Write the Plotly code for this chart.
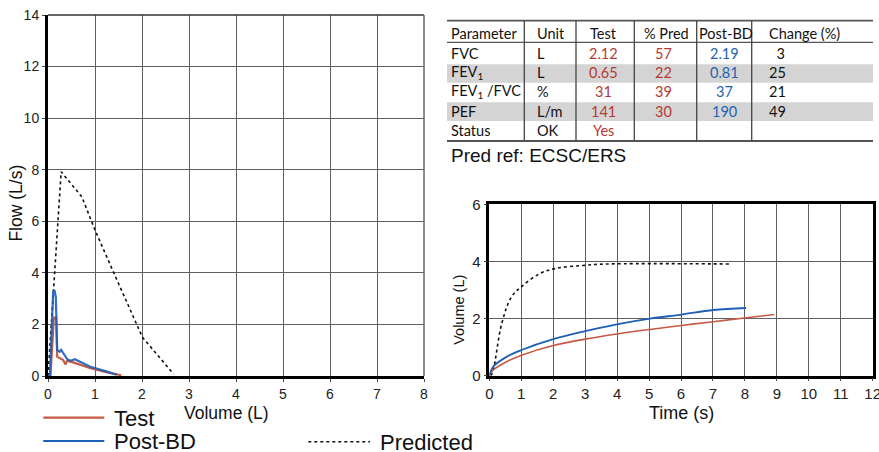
import plotly.graph_objects as go

# ---------------- data ----------------
# Flow-volume loop (left)
fv_test_vol = [0, 0.053, 0.124, 0.174, 0.195, 0.266, 0.323, 0.372, 0.408, 0.55, 0.904, 1.26, 1.56]
fv_test_flow = [0, 0, 2.26, 2.26, 0.75, 0.69, 0.62, 0.45, 0.59, 0.52, 0.30, 0.14, 0.03]
fv_post_vol = [0, 0.04, 0.11, 0.138, 0.166, 0.195, 0.25, 0.28, 0.41, 0.48, 0.57, 0.9, 1.26, 1.46]
fv_post_flow = [0, 0, 3.27, 3.33, 3.07, 1.01, 0.94, 1.01, 0.65, 0.59, 0.65, 0.36, 0.17, 0.05]
fv_pred_vol = [0, 0.28, 0.72, 1.0, 1.39, 2.01, 2.67]
fv_pred_flow = [0, 7.92, 6.95, 5.66, 4.04, 1.50, 0.08]

# Volume-time (right)
vt_test_t = [0, 0.125, 0.54, 1.01, 2.0, 3.0, 3.99, 5.03, 6.02, 7.01, 8.04, 8.92]
vt_test_v = [0, 0.20, 0.49, 0.72, 1.06, 1.28, 1.46, 1.62, 1.76, 1.89, 2.03, 2.14]
vt_post_t = [0, 0.125, 0.54, 1.01, 2.0, 3.0, 3.99, 5.03, 6.02, 7.01, 8.04]
vt_post_v = [0, 0.32, 0.66, 0.90, 1.28, 1.56, 1.80, 2.00, 2.14, 2.30, 2.37]
vt_pred_t = [0.05, 0.125, 0.39, 0.70, 1.01, 1.59, 2.11, 2.94, 3.67, 7.54]
vt_pred_v = [0, 0.20, 1.83, 2.77, 3.12, 3.58, 3.76, 3.86, 3.91, 3.91]

# Table
tbl_header = ["Parameter", "Unit", "Test", "% Pred", "Post-BD", "Change (%)"]
tbl_param = ["FVC", "FEV<sub>1</sub>", "FEV<sub>1</sub> /FVC", "PEF", "Status"]
tbl_unit = ["L", "L", "%", "L/m", "OK"]
tbl_test = ["2.12", "0.65", "31", "141", "Yes"]
tbl_pred = ["57", "22", "39", "30", ""]
tbl_post = ["2.19", "0.81", "37", "190", ""]
tbl_change = ["\u00a0\u00a03", "25", "21", "49", ""]
pred_ref = "Pred ref: ECSC/ERS"

legend_names = ["Test", "Post-BD", "Predicted"]

# ---------------- styles ----------------
W, H = 879, 452
RED = "#c65a45"
BLUE = "#1f5fb5"
TRED = "#b53a35"
TBLUE = "#2563b0"
GRID = "#5f5f5f"
FONT = "Liberation Sans"
TFONT = "Lato"


def X(px):
    return px / W


def Y(py):
    return 1 - py / H


fig = go.Figure()

# left chart
fig.add_trace(go.Scatter(x=fv_pred_vol, y=fv_pred_flow, mode="lines",
                         line=dict(color="#111", width=1.6, dash="dot"),
                         xaxis="x", yaxis="y", showlegend=False))
fig.add_trace(go.Scatter(x=fv_test_vol, y=fv_test_flow, mode="lines",
                         line=dict(color=RED, width=2.2),
                         xaxis="x", yaxis="y", showlegend=False))
fig.add_trace(go.Scatter(x=fv_post_vol, y=fv_post_flow, mode="lines",
                         line=dict(color=BLUE, width=2.2), opacity=0.9,
                         xaxis="x", yaxis="y", showlegend=False))

# right chart
fig.add_trace(go.Scatter(x=vt_pred_t, y=vt_pred_v, mode="lines", line_shape="spline",
                         line=dict(color="#111", width=1.6, dash="3px,3px"),
                         xaxis="x2", yaxis="y2", showlegend=False))
fig.add_trace(go.Scatter(x=vt_test_t, y=vt_test_v, mode="lines", line_shape="spline",
                         line=dict(color=RED, width=1.6),
                         xaxis="x2", yaxis="y2", showlegend=False))
fig.add_trace(go.Scatter(x=vt_post_t, y=vt_post_v, mode="lines", line_shape="spline",
                         line=dict(color=BLUE, width=1.8),
                         xaxis="x2", yaxis="y2", showlegend=False))

tickfont = dict(family=FONT, size=14, color="#222")
common = dict(showgrid=True, gridcolor=GRID, gridwidth=1, zeroline=False,
              showline=True, linecolor="black", ticks="outside", ticklen=3,
              tickcolor="#444", automargin=False, fixedrange=True, tick0=0,
              ticklabeloverflow="allow")

fig.update_layout(
    width=W, height=H,
    autosize=False,
    margin=dict(l=0, r=0, t=0, b=0, pad=0),
    paper_bgcolor="white", plot_bgcolor="white",
    showlegend=False,
    xaxis=dict(domain=[X(48), X(424)], range=[0, 8], dtick=1, linewidth=3,
               tickfont=tickfont, anchor="y", **common),
    yaxis=dict(domain=[Y(376), Y(15)], range=[0, 14], dtick=2, linewidth=3,
               tickfont=tickfont, anchor="x", **common),
    xaxis2=dict(domain=[X(489.3), X(872.7)], range=[0, 12], dtick=1, mirror=True, linewidth=2.5,
                tickfont=dict(family=FONT, size=15, color="#222"), anchor="y2", **common),
    yaxis2=dict(domain=[Y(375.7), Y(204.3)], range=[0, 6], dtick=2, mirror=True, linewidth=2.5,
                tickfont=dict(family=FONT, size=15, color="#222"), anchor="x2", **common),
)

shapes = []
ann = []

# left chart top/right borders
shapes.append(dict(type="line", xref="x domain", yref="y domain", x0=0, x1=1, y0=1, y1=1,
                   line=dict(color="#333", width=1.5)))
shapes.append(dict(type="line", xref="x domain", yref="y domain", x0=1, x1=1, y0=0, y1=1,
                   line=dict(color="#666", width=1.5)))


def label(text, x, y, size, angle=0, anchor="center"):
    ann.append(dict(text=text, x=X(x), y=Y(y), xref="paper", yref="paper",
                    showarrow=False, textangle=angle, xanchor=anchor, yanchor="middle",
                    font=dict(family=FONT, size=size, color="#111")))


# axis titles
label("Flow (L/s)", 16.3, 203.3, 17.5, -90)
label("Volume (L)", 226.7, 413.3, 17.5)
label("Volume (L)", 458.3, 309.5, 14.5, -90)
label("Time (s)", 681.7, 413.3, 18)

# ---------------- table ----------------
col_edges = [447, 524.3, 576, 634.3, 696.7, 751.7, 873]
row_lines = [20.7, 42.3, 141]
band_rows = [(64.3, 82.7), (102.3, 121.0)]
for y0, y1 in band_rows:
    shapes.append(dict(type="rect", xref="paper", yref="paper", x0=X(col_edges[0]), x1=X(col_edges[-1]),
                       y0=Y(y1), y1=Y(y0), fillcolor="#d4d4d4", line=dict(width=0), layer="below"))
for i, yy in enumerate(row_lines):
    shapes.append(dict(type="line", xref="paper", yref="paper", x0=X(col_edges[0]), x1=X(col_edges[-1]),
                       y0=Y(yy), y1=Y(yy), line=dict(color="#555", width=1.8 if i != 1 else 1.2)))
for xx in col_edges[1:-1]:
    shapes.append(dict(type="line", xref="paper", yref="paper", x0=X(xx), x1=X(xx),
                       y0=Y(row_lines[0]), y1=Y(row_lines[-1]), line=dict(color="#444", width=1.3)))

row_y = [33.3, 53.3, 72.5, 91.7, 111.5, 130.7]


def cell(text, x, y, anchor, color="#111"):
    if not text:
        return
    ann.append(dict(text=text, x=X(x), y=Y(y), xref="paper", yref="paper", showarrow=False,
                    xanchor=anchor, yanchor="middle", font=dict(family=TFONT, size=14.5, color=color)))


hx = [(449, "left"), (535, "left"), (603, "center"), (666, "center"), (725.5, "center"), (767, "left")]
for t, (x, a) in zip(tbl_header, hx):
    cell(t, x, row_y[0], a)
for i in range(5):
    y = row_y[i + 1]
    cell(tbl_param[i], 449, y, "left")
    cell(tbl_unit[i], 535, y, "left")
    cell(tbl_test[i], 603, y, "center", TRED)
    cell(tbl_pred[i], 663, y, "center", TRED)
    cell(tbl_post[i], 724.5, y, "center", TBLUE)
    cell(tbl_change[i], 767, y, "left")

label(pred_ref, 449, 155.5, 19, anchor="left")

# ---------------- legend ----------------
leg = [(43.3, 104.3, 417.7, RED, "solid", 2.2, 111.7),
       (43.3, 104.3, 441.0, BLUE, "solid", 2.2, 111.7),
       (308.3, 370.0, 441.7, "#111", "dot", 1.6, 377.7)]
for (x0, x1, y, c, d, w, tx), name in zip(leg, legend_names):
    shapes.append(dict(type="line", xref="paper", yref="paper", x0=X(x0), x1=X(x1), y0=Y(y), y1=Y(y),
                       line=dict(color=c, width=w, dash=d)))
    label(name, tx, y + 0.5, 22, anchor="left")

fig.update_layout(shapes=shapes, annotations=ann)
fig.write_html("out.html", config={"displayModeBar": False},
               post_script="document.body.style.margin='0';document.body.style.overflow='hidden';")
